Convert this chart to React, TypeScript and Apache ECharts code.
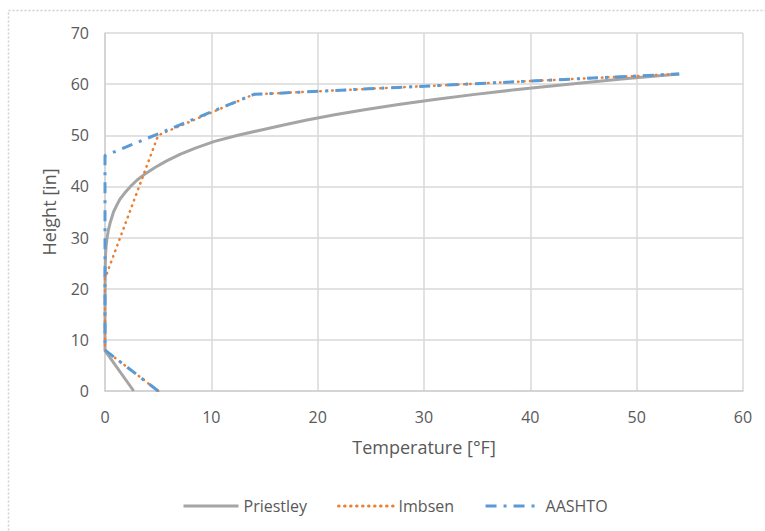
import React, { useEffect, useRef } from "react";
import * as echarts from "echarts";

const seriesNames = ["Priestley", "Imbsen", "AASHTO"];
const seriesColors = ["#a5a5a5", "#ed7d31", "#5b9bd5"];

// [Temperature °F, Height in]
const priestley: number[][] = [
  [2.7, 0], [0, 7.9], [0, 15], [0.01, 22], [0.03, 25], [0.06, 27], [0.11, 28.5],
  [0.2, 30], [0.32, 31.5], [0.5, 33], [0.8, 35], [1.1, 36.3], [1.4, 37.5],
  [1.85, 38.7], [2.4, 40], [3.0, 41.2], [3.8, 42.5], [4.7, 43.7], [5.8, 45],
  [7.1, 46.3], [8.5, 47.5], [10.3, 48.8], [12.5, 50], [14.6, 51],
  [16.8, 52], [19, 53], [21.6, 54], [24.4, 55], [27.6, 56], [31, 57],
  [34.8, 58], [39, 59], [43.6, 60], [48.6, 61], [54, 62],
];
const imbsen: number[][] = [
  [5, 0], [0, 8], [0, 22], [5, 50], [14, 58], [54, 62],
];
const aashto: number[][] = [
  [5, 0], [0, 8], [0, 46], [14, 58], [54, 62],
];

const xTitle = "Temperature [°F]";
const yTitle = "Height [in]";

const FONT = "'Open Sans', sans-serif";
const TXT = "#595959";

export default function App() {
  const ref = useRef<HTMLDivElement>(null);
  useEffect(() => {
    document.body.style.margin = "0";
    if (!ref.current) return;
    const chart = echarts.init(ref.current, null, { renderer: "svg" });
    const dataSets = [priestley, imbsen, aashto];
    const lineTypes: any[] = ["solid", [0.5, 5.5], [11, 7, 3, 7]];
    chart.setOption({
      animation: false,
      backgroundColor: "#ffffff",
      textStyle: { fontFamily: FONT },
      graphic: [
        {
          type: "rect",
          shape: { x: 8.5, y: 10.5, width: 900, height: 900 },
          style: { fill: "none", stroke: "#d0d0d0", lineWidth: 1.5, lineDash: [2, 2] },
          silent: true,
        },
      ],
      grid: { left: 105, right: 22, top: 33, bottom: 140 },
      xAxis: {
        type: "value",
        min: 0,
        max: 60,
        interval: 10,
        name: xTitle,
        nameLocation: "middle",
        nameGap: 47,
        nameTextStyle: { color: TXT, fontSize: 18, fontFamily: FONT },
        axisLine: { show: true, lineStyle: { color: "#d0d0d0", width: 1.5 } },
        axisTick: { show: false },
        axisLabel: { color: TXT, fontSize: 16, margin: 18, fontFamily: FONT },
        splitLine: { show: true, lineStyle: { color: "#d9d9d9", width: 1.5 } },
      },
      yAxis: {
        type: "value",
        min: 0,
        max: 70,
        interval: 10,
        name: yTitle,
        nameLocation: "middle",
        nameGap: 47,
        nameTextStyle: { color: TXT, fontSize: 18, fontFamily: FONT },
        axisLine: { show: true, lineStyle: { color: "#d0d0d0", width: 1.5 } },
        axisTick: { show: false },
        axisLabel: { color: TXT, fontSize: 16, margin: 16, fontFamily: FONT },
        splitLine: { show: true, lineStyle: { color: "#d9d9d9", width: 1.5 } },
      },
      legend: {
        left: 177,
        top: 493,
        itemWidth: 55,
        itemHeight: 14,
        itemGap: 30,
        itemStyle: { opacity: 0 },
        lineStyle: { width: 3 },
        textStyle: { color: TXT, fontSize: 16, fontFamily: FONT },
        data: seriesNames,
      },
      series: seriesNames.map((name, i) => ({
        name,
        type: "line",
        data: dataSets[i],
        symbol: "none",
        showSymbol: false,
        smooth: false,
        color: seriesColors[i],
        lineStyle: {
          color: seriesColors[i],
          width: i === 1 ? 2.5 : 3,
          type: lineTypes[i],
          cap: i === 1 ? "round" : "butt",
          join: "round",
        },
      })),
    });
    return () => chart.dispose();
  }, []);
  return <div ref={ref} style={{ width: 765, height: 531 }} />;
}
